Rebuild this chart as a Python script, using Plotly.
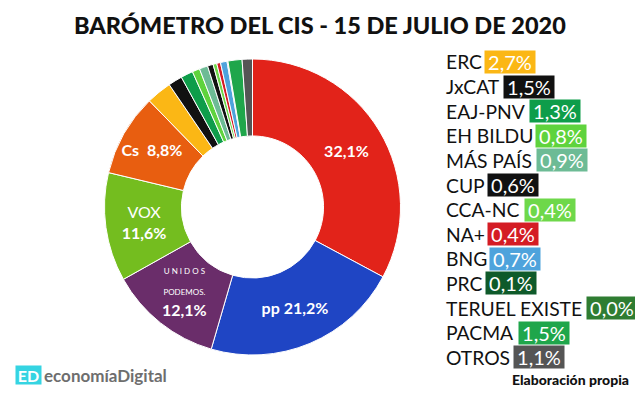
import plotly.graph_objects as go

# ---- data ----
main_parties = ["PSOE", "PP", "UNIDAS PODEMOS", "VOX", "Cs"]
main_values = [32.1, 21.2, 12.1, 11.6, 8.8]
main_colors = ["#E2231A", "#1F45C4", "#6A2D6A", "#74BD1F", "#E85E10"]

small_parties = ["ERC", "JxCAT", "EAJ-PNV", "EH BILDU", "MÁS PAÍS", "CUP", "CCA-NC",
                 "NA+", "BNG", "PRC", "TERUEL EXISTE", "PACMA", "OTROS"]
small_values = [2.7, 1.5, 1.3, 0.8, 0.9, 0.6, 0.4, 0.4, 0.7, 0.1, 0.0, 1.5, 1.1]
small_colors = ["#FBB715", "#111111", "#0E9D4A", "#5FD33D", "#6DBB95", "#111111", "#6ED84A",
                "#D41C24", "#4EA3DC", "#0E5A2A", "#2F7D32", "#1FA64B", "#555555"]

title = "BARÓMETRO DEL CIS - 15 DE JULIO DE 2020"
source = "Elaboración propia"

def fmt(v):
    return f"{v:.1f}".replace(".", ",") + "%"

labels = main_parties + small_parties
values = main_values + small_values
colors = main_colors + small_colors

slice_text = [
    "<b>" + fmt(main_values[0]) + "</b>",
    "<b>pp " + fmt(main_values[1]) + "</b>",
    "<span style='font-size:8px'>U N I D O S<br>PODEMOS.</span><br><b>" + fmt(main_values[2]) + "</b>",
    "VOX<br><b>" + fmt(main_values[3]) + "</b>",
    "<b>Cs  " + fmt(main_values[4]) + "</b>",
] + [""] * len(small_parties)

# browser body has an 8px margin; figure is sized to fit inside the window
OFF = 8
WIN_W, WIN_H = 643, 397
W, H = WIN_W - 2 * OFF, WIN_H - 2 * OFF

def px(x):
    return (x - OFF) / W

def py(y):
    return 1 - (y - OFF) / H

fig = go.Figure()
fig.add_trace(go.Pie(
    labels=labels, values=values, text=slice_text,
    textinfo="text", textposition="inside", insidetextorientation="horizontal",
    sort=False, direction="clockwise", rotation=0, hole=0.48,
    marker=dict(colors=colors, line=dict(color="white", width=1)),
    textfont=dict(family="Lato", size=16, color="white"),
    domain=dict(x=[px(102), px(403)], y=[py(355), py(59)]),
    showlegend=False, hoverinfo="label+value",
))

# approximate Lato Regular advance widths (per 1000 em)
cw = {" ": 193, "A": 684, "Á": 684, "B": 645, "C": 672, "D": 752, "E": 563, "G": 734,
      "H": 760, "I": 276, "Í": 276, "J": 407, "L": 497, "M": 917, "N": 760, "O": 790,
      "P": 610, "R": 633, "S": 532, "T": 582, "U": 726, "V": 684, "X": 650, "x": 483,
      "-": 376, "+": 580}

def text_w(s, size):
    return sum(cw.get(c, 600) for c in s) * size / 1000.0 * 1.05

ann = []
lab_size = 19.3
x0 = 444
y0 = 62
step = 24.6
for i, (p, v, c) in enumerate(zip(small_parties, small_values, small_colors)):
    y = y0 + i * step
    ann.append(dict(x=px(x0), y=py(y), xref="paper", yref="paper", xanchor="left",
                    yanchor="middle", text=p, showarrow=False,
                    font=dict(family="Lato", size=lab_size, color="#111111")))
    bx = x0 + text_w(p, lab_size) + 2
    ann.append(dict(x=px(bx), y=py(y), xref="paper", yref="paper", xanchor="left",
                    yanchor="middle", text=fmt(v), showarrow=False, bgcolor=c,
                    borderpad=0, width=50, height=22, align="center",
                    font=dict(family="Lato", size=20, color="white")))

ann.append(dict(x=px(320), y=py(25), xref="paper", yref="paper", xanchor="center",
                yanchor="middle", text=title, showarrow=False,
                font=dict(family="Lato", size=23.5, color="#111111", weight=900)))
ann.append(dict(x=px(631), y=py(379), xref="paper", yref="paper", xanchor="right",
                yanchor="middle", text=source, showarrow=False,
                font=dict(family="Lato", size=14, color="#111111", weight=900)))
# logo
ann.append(dict(x=px(15), y=py(375), xref="paper", yref="paper", xanchor="left",
                yanchor="middle", text="<b>ED</b>", showarrow=False, bgcolor="#35D4E2",
                borderpad=0, width=25, height=18,
                font=dict(family="Lato", size=16, color="white")))
ann.append(dict(x=px(42), y=py(375), xref="paper", yref="paper", xanchor="left",
                yanchor="middle", text="<b>economía</b><b>Digital</b>", showarrow=False,
                font=dict(family="Lato", size=17, color="#6E6E6E")))

fig.update_layout(
    width=W, height=H, margin=dict(l=0, r=0, t=0, b=0),
    paper_bgcolor="white", plot_bgcolor="white",
    annotations=ann,
)

fig.write_html("out.html")
